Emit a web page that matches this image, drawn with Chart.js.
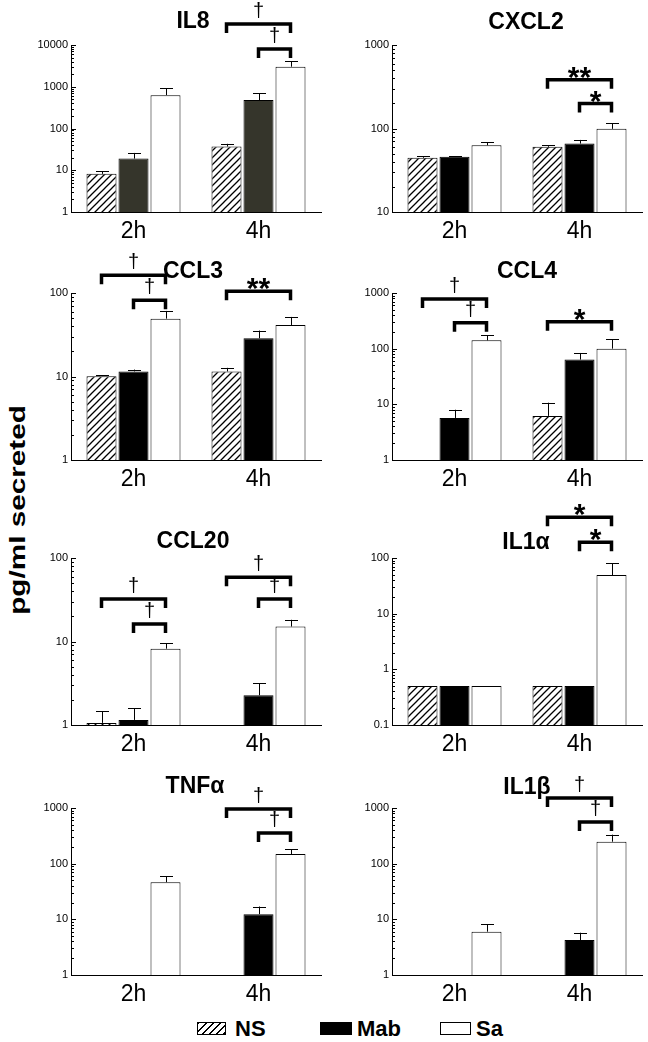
<!DOCTYPE html>
<html>
<head>
<meta charset="utf-8">
<script src="https://cdn.jsdelivr.net/npm/chart.js@4"></script>
<style>
  body { margin: 0; background: #fff; width: 648px; height: 1042px; position: relative; overflow: hidden;
         font-family: Arial, 'Liberation Sans', sans-serif; }
  canvas.panel { position: absolute; }
  #ylabel { position: absolute; left: 17.5px; top: 510px; font-weight: bold; font-size: 22px; white-space: nowrap;
            transform: translate(-50%, -50%) rotate(-90deg) scaleX(1.35); }
  .key { position: absolute; top: 1022px; height: 13px; box-sizing: border-box; border: 1.5px solid #000; }
  .keytxt { position: absolute; top: 1016px; font-weight: bold; font-size: 22px; line-height: 26px; }
</style>
</head>
<body>
<div id="ylabel">pg/ml secreted</div>

<div class="key" style="left:197px;width:29px;background:repeating-linear-gradient(135deg,#000 0 1.4px,#fff 1.4px 5px);"></div>
<div class="keytxt" style="left:235px;">NS</div>
<div class="key" style="left:320px;width:32px;background:#000;"></div>
<div class="keytxt" style="left:357px;">Mab</div>
<div class="key" style="left:440px;width:31px;background:#fff;"></div>
<div class="keytxt" style="left:476px;">Sa</div>

<script>
const groups = ['2h', '4h'];
const seriesNames = ['NS', 'Mab', 'Sa'];

// means per series, [2h, 4h]; error arrays hold the top of each SEM bar
const il8NS = [8.2, 37];
const il8Mab = [19, 480];
const il8Sa = [630, 3020];
const il8Err = [[9.5, 43], [26, 690], [930, 4130]];
const il8Sig = [[1, 0, 2, '†'], [1, 1, 2, '†']];

const cxcl2NS = [44.6, 60.4];
const cxcl2Mab = [45.8, 66];
const cxcl2Sa = [63, 99];
const cxcl2Err = [[46.7, 63], [46.5, 73], [68.7, 115]];
const cxcl2Sig = [[1, 0, 2, '**'], [1, 1, 2, '*']];

const ccl3NS = [10.1, 11.5];
const ccl3Mab = [11.5, 28.7];
const ccl3Sa = [49.3, 41.4];
const ccl3Err = [[10.3, 12.7], [12.1, 35.5], [61, 51.7]];
const ccl3Sig = [[0, 0, 2, '†'], [0, 1, 2, '†'], [1, 0, 2, '**']];

const ccl4NS = [null, 6.2];
const ccl4Mab = [5.7, 63.6];
const ccl4Sa = [141, 100];
const ccl4Err = [[null, 10.7], [8.0, 83.7], [175, 149]];
const ccl4Sig = [[0, 0, 2, '†'], [0, 1, 2, '†'], [1, 0, 2, '*']];

const ccl20NS = [1.06, null];
const ccl20Mab = [1.15, 2.27];
const ccl20Sa = [8.2, 15.1];
const ccl20Err = [[1.46, null], [1.58, 3.16], [9.5, 18.2]];
const ccl20Sig = [[0, 0, 2, '†'], [0, 1, 2, '†'], [1, 0, 2, '†'], [1, 1, 2, '†']];

const il1aNS = [0.5, 0.5];
const il1aMab = [0.5, 0.5];
const il1aSa = [0.5, 49.5];
const il1aErr = [[null, null], [null, null], [null, 80]];
const il1aSig = [[1, 0, 2, '*'], [1, 1, 2, '*']];

const tnfaNS = [null, null];
const tnfaMab = [null, 12.4];
const tnfaSa = [46.5, 148.5];
const tnfaErr = [[null, null], [null, 17], [58.9, 183]];
const tnfaSig = [[1, 0, 2, '†'], [1, 1, 2, '†']];

const il1bNS = [null, null];
const il1bMab = [null, 4.25];
const il1bSa = [6.0, 248];
const il1bErr = [[null, null], [null, 5.75], [8.1, 332]];
const il1bSig = [[1, 0, 2, '†'], [1, 1, 2, '†']];

// layout: chart area tops per row, bracket levels in axis units
const rowTops = [45, 293, 558, 808];
const panels = [
  { title: 'IL8', min: 1, max: 10000, data: [il8NS, il8Mab, il8Sa], err: il8Err, sig: il8Sig,
    levels: [32000, 8000], row: 0, col: 0, tdx: -3, tdy: -23, mab: '#35352b' },
  { title: 'CXCL2', min: 10, max: 1000, data: [cxcl2NS, cxcl2Mab, cxcl2Sa], err: cxcl2Err, sig: cxcl2Sig,
    levels: [383, 199], row: 0, col: 1, tdx: 9, tdy: -22 },
  { title: 'CCL3', min: 1, max: 100, data: [ccl3NS, ccl3Mab, ccl3Sa], err: ccl3Err, sig: ccl3Sig,
    levels: [163, 82, 105], row: 1, col: 0, tdx: -3, tdy: -21 },
  { title: 'CCL4', min: 1, max: 1000, data: [ccl4NS, ccl4Mab, ccl4Sa], err: ccl4Err, sig: ccl4Sig,
    levels: [782, 291, 303], row: 1, col: 1, tdx: 10, tdy: -21 },
  { title: 'CCL20', min: 1, max: 100, data: [ccl20NS, ccl20Mab, ccl20Sa], err: ccl20Err, sig: ccl20Sig,
    levels: [32.3, 16.2, 59, 32.3], row: 2, col: 0, tdx: -3, tdy: -16 },
  { title: 'IL1α', min: 0.1, max: 100, data: [il1aNS, il1aMab, il1aSa], err: il1aErr, sig: il1aSig,
    levels: [537, 191], row: 2, col: 1, tdx: 9, tdy: -15 },
  { title: 'TNFα', min: 1, max: 1000, data: [tnfaNS, tnfaMab, tnfaSa], err: tnfaErr, sig: tnfaSig,
    levels: [960, 356], row: 3, col: 0, tdx: -1, tdy: -21 },
  { title: 'IL1β', min: 1, max: 1000, data: [il1bNS, il1bMab, il1bSa], err: il1bErr, sig: il1bSig,
    levels: [1513, 561], row: 3, col: 1, tdx: 10, tdy: -20 }
];

const FONT = "Arial, 'Liberation Sans', sans-serif";

function isDecade(v) {
  const l = Math.log10(v);
  return Math.abs(l - Math.round(l)) < 1e-9;
}

function makeHatch(ctx) {
  const c = document.createElement('canvas');
  c.width = 7; c.height = 7;
  const g = c.getContext('2d');
  g.fillStyle = '#fff';
  g.fillRect(0, 0, 7, 7);
  g.strokeStyle = '#000';
  g.lineWidth = 1.3;
  g.beginPath();
  g.moveTo(-1, 8); g.lineTo(8, -1);
  g.moveTo(-1, 1); g.lineTo(1, -1);
  g.moveTo(6, 8); g.lineTo(8, 6);
  g.stroke();
  return ctx.createPattern(c, 'repeat');
}

// ticks inside the axis, error bars, brackets and panel title
const extras = {
  id: 'extras',
  afterDatasetsDraw(chart, args, opts) {
    const ctx = chart.ctx;
    const area = chart.chartArea;
    const ys = chart.scales.y;
    const p = opts.panel;
    ctx.save();
    ctx.strokeStyle = '#000';
    ctx.lineWidth = 1;
    ctx.beginPath();
    ys.ticks.forEach(t => {
      const py = Math.round(ys.getPixelForValue(t.value)) + 0.5;
      ctx.moveTo(area.left, py);
      ctx.lineTo(area.left + (isDecade(t.value) ? 5 : 3), py);
    });
    ctx.stroke();

    // error bars (upper only)
    ctx.beginPath();
    p.err.forEach((row, i) => {
      const meta = chart.getDatasetMeta(i);
      row.forEach((top, j) => {
        if (top == null || p.data[i][j] == null) return;
        const bar = meta.data[j];
        const x = Math.round(bar.x) + 0.5;
        const yt = ys.getPixelForValue(top);
        ctx.moveTo(x, bar.y);
        ctx.lineTo(x, yt);
        ctx.moveTo(x - 6.5, Math.round(yt) + 0.5);
        ctx.lineTo(x + 6.5, Math.round(yt) + 0.5);
      });
    });
    ctx.stroke();

    // significance brackets
    p.sig.forEach((s, k) => {
      const [g, a, b, txt] = s;
      const x1 = chart.getDatasetMeta(a).data[g].x;
      const x2 = chart.getDatasetMeta(b).data[g].x;
      const y = ys.getPixelForValue(p.levels[k]);
      ctx.lineWidth = 3.5;
      ctx.lineJoin = 'miter';
      ctx.beginPath();
      ctx.moveTo(x1, y + 9);
      ctx.lineTo(x1, y);
      ctx.lineTo(x2, y);
      ctx.lineTo(x2, y + 9);
      ctx.stroke();
      ctx.fillStyle = '#000';
      ctx.textAlign = 'center';
      ctx.textBaseline = 'alphabetic';
      if (txt === '†') {
        ctx.font = '20px ' + FONT;
        ctx.fillText(txt, (x1 + x2) / 2, y - 7);
      } else {
        ctx.font = 'bold 30px ' + FONT;
        ctx.fillText(txt, (x1 + x2) / 2, y + 7);
      }
    });

    ctx.font = 'bold 23px ' + FONT;
    ctx.fillStyle = '#000';
    ctx.textAlign = 'center';
    ctx.textBaseline = 'middle';
    ctx.fillText(p.title, (area.left + area.right) / 2 + p.tdx, area.top + p.tdy);
    ctx.restore();
  }
};

panels.forEach(p => {
  const canvas = document.createElement('canvas');
  canvas.className = 'panel';
  const left = p.col === 0 ? 0 : 326;
  const w = p.col === 0 ? 326 : 322;
  const h = 262;
  canvas.width = w;
  canvas.height = h;
  canvas.style.left = left + 'px';
  canvas.style.top = (rowTops[p.row] - 60) + 'px';
  document.body.appendChild(canvas);
  const ctx = canvas.getContext('2d');
  const fills = [makeHatch(ctx), p.mab || '#000', '#fff'];

  new Chart(ctx, {
    type: 'bar',
    data: {
      labels: groups,
      datasets: seriesNames.map((name, i) => ({
        label: name,
        data: p.data[i],
        backgroundColor: fills[i],
        borderColor: '#000',
        borderWidth: 1,
        categoryPercentage: 0.768,
        barPercentage: 0.9375
      }))
    },
    options: {
      responsive: false,
      animation: false,
      devicePixelRatio: 1,
      layout: { padding: { top: 60, bottom: 5, left: p.col === 0 ? 20 : 15, right: p.col === 0 ? 5 : 6 } },
      plugins: {
        legend: { display: false },
        tooltip: { enabled: false },
        title: { display: false },
        extras: { panel: p }
      },
      scales: {
        x: {
          grid: { display: false, drawTicks: false },
          border: { display: true, color: '#000', width: 1 },
          ticks: { color: '#000', font: { size: 23, family: FONT }, padding: 6 },
          afterFit: s => { s.height = 30; }
        },
        y: {
          type: 'logarithmic',
          min: p.min,
          max: p.max,
          grid: { display: false, drawTicks: false },
          border: { display: true, color: '#000', width: 1 },
          ticks: {
            color: '#000',
            font: { size: 11, family: FONT },
            padding: 3,
            autoSkip: false,
            callback: v => isDecade(v) ? String(v) : ''
          },
          afterBuildTicks: s => {
            const ticks = [];
            const e0 = Math.round(Math.log10(s.min));
            const e1 = Math.round(Math.log10(s.max));
            for (let e = e0; e < e1; e++) {
              for (let d = 1; d < 10; d++) ticks.push({ value: +(d * Math.pow(10, e)).toPrecision(6) });
            }
            ticks.push({ value: s.max });
            s.ticks = ticks;
          },
          afterFit: s => { s.width = 51; }
        }
      }
    },
    plugins: [extras]
  });
});
</script>
</body>
</html>
